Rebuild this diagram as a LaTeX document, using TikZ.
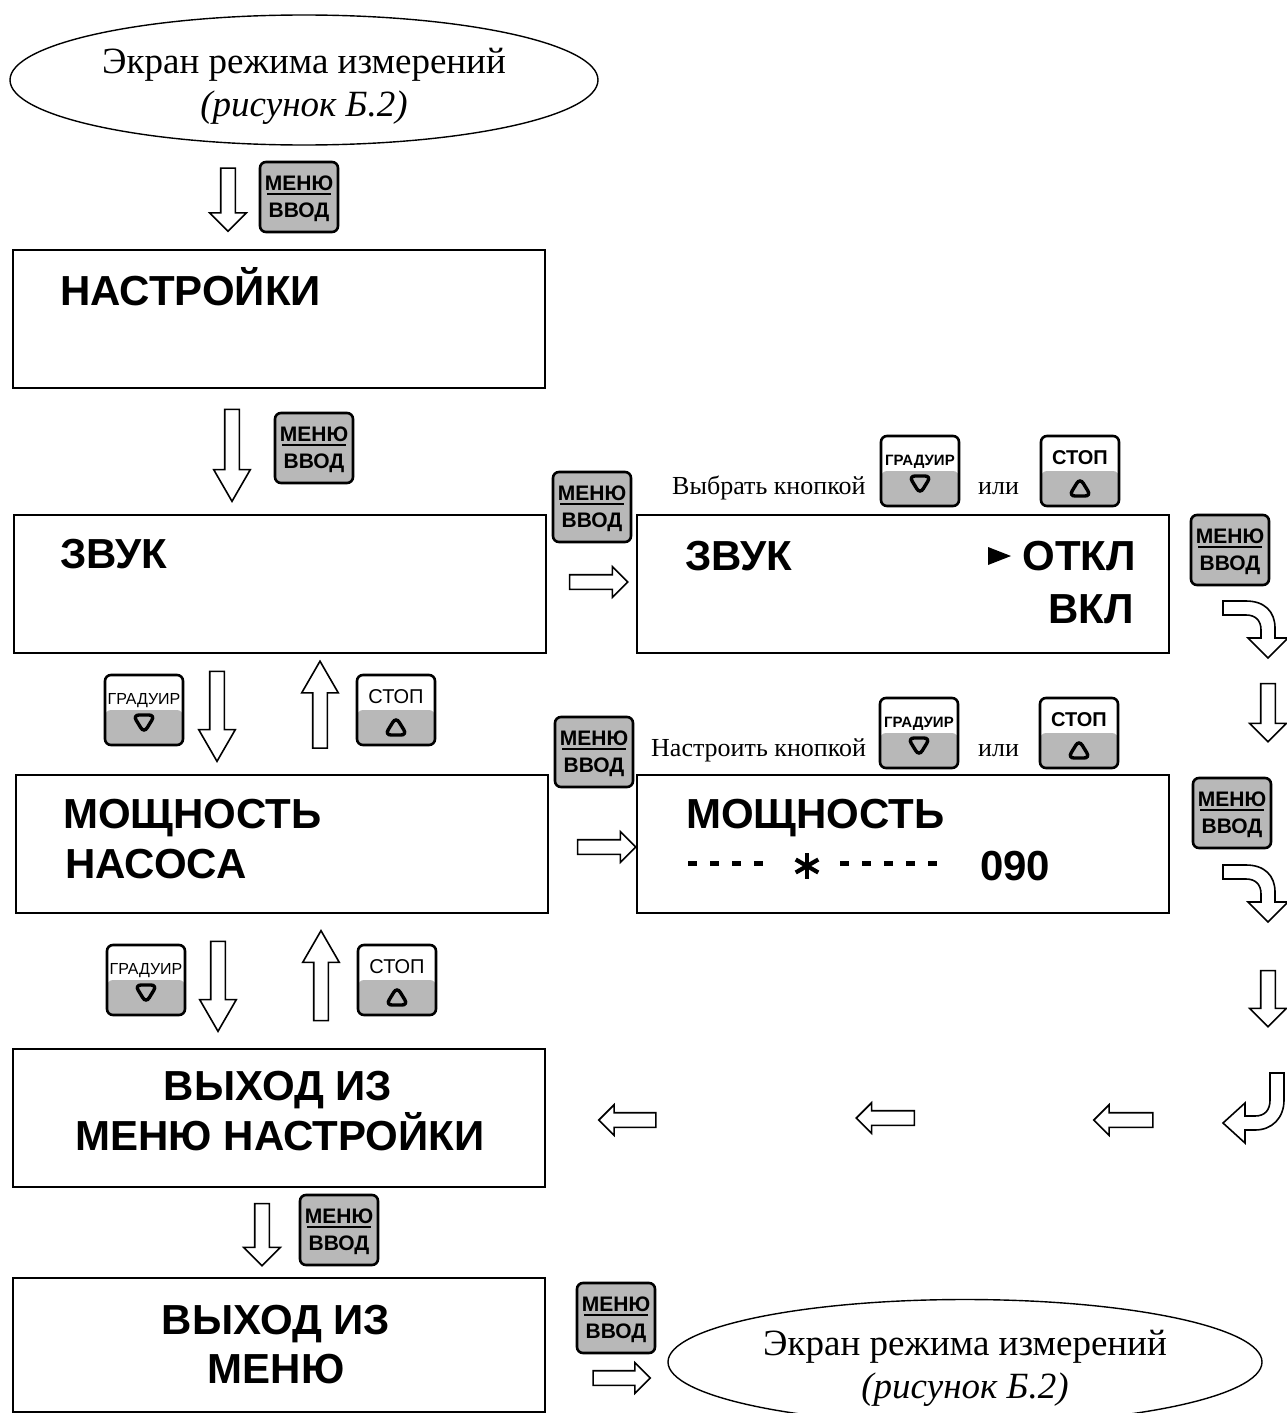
\documentclass[tikz,border=0pt]{standalone}
\usepackage{fontspec}
\setmainfont{Liberation Serif}
\setsansfont{Liberation Sans}
\usetikzlibrary{shapes.geometric,shapes.arrows}
\definecolor{keygray}{RGB}{184,184,184}

\tikzset{
  screen/.style={draw,line width=2.6pt,minimum width=532pt,minimum height=138pt,inner sep=0pt},
  lcd/.style={font=\sffamily\bfseries\fontsize{42}{48}\selectfont,inner sep=0pt},
  note/.style={font=\fontsize{26}{30}\selectfont,inner sep=0pt,anchor=base west},
  oval/.style={ellipse,draw,line width=1.4pt,inner sep=0pt,align=center,font=\fontsize{37}{43}\selectfont},
  keybox/.style={draw,line width=2.6pt,rounded corners=6pt,minimum width=78pt,minimum height=70pt,inner sep=0pt},
  keytext/.style={font=\sffamily\fontsize{#1}{#1}\selectfont,inner sep=0pt,anchor=base},
  keymenu/.style={keybox,fill=keygray,path picture={
      \node[keytext=21] at ([yshift=7pt]path picture bounding box.center) {\bfseries МЕНЮ};
      \draw[line width=2.6pt] ([xshift=-32pt,yshift=3pt]path picture bounding box.center) -- ++(64pt,0pt);
      \node[keytext=21] at ([yshift=-20pt]path picture bounding box.center) {\bfseries ВВОД};}},
  keydown/.style={keybox,path picture={
      \fill[keygray] (path picture bounding box.west) rectangle (path picture bounding box.south east);
      \draw[line width=3.4pt] ([yshift=-5pt]path picture bounding box.center) -- ++(-11pt,0pt) -- ++(11pt,-18pt) -- ++(11pt,18pt) -- cycle;
      \node[keytext=16] at ([yshift=6pt]path picture bounding box.center) {#1};}},
  keyup/.style={keybox,path picture={
      \fill[keygray] (path picture bounding box.west) rectangle (path picture bounding box.south east);
      \draw[line width=3.4pt] ([yshift=-25pt]path picture bounding box.center) -- ++(-11pt,0pt) -- ++(11pt,18pt) -- ++(11pt,-18pt) -- cycle;
      \node[keytext=20] at ([yshift=7pt]path picture bounding box.center) {#1};}},
  bigarrow/.style={single arrow,draw,line width=1.6pt,fill=white,inner xsep=0pt,inner ysep=6.5pt,
      single arrow head extend=11pt,single arrow tip angle=90,minimum height=#1},
  arrdown/.style={bigarrow=#1,rotate=-90},
  arrup/.style={bigarrow=#1,rotate=90},
  arrright/.style={bigarrow=#1,single arrow head extend=8pt},
  arrleft/.style={bigarrow=#1,single arrow head extend=8pt,rotate=180},
  longtip/.style={single arrow tip angle=60},
  bentarrow/.style={draw,line width=1.6pt,fill=white,line join=miter}
}

\begin{document}
\begin{tikzpicture}[x=1pt,y=-1pt]
\useasboundingbox (0,0) rectangle (1286,1413);

% entry
\node[oval,minimum width=588pt,minimum height=130pt] (scr1) at (304,80) {\rule{0pt}{37pt}Экран режима измерений\\\textit{(рисунок Б.2)}};
\node[arrdown=63pt] (a1) at (228,196) {};
\node[keymenu] (k1) at (299,197) {};

% left column
\node[screen] (s1) at (279,319) {};
\node[lcd,anchor=base west] (t1) at (60,305) {НАСТРОЙКИ};
\node[arrdown=92pt,longtip] (a2) at (232,449) {};
\node[keymenu] (k2) at (314,448) {};

\node[screen] (s2) at (280,584) {};
\node[lcd,anchor=base west] (t2) at (60,568) {ЗВУК};

\node[keydown=ГРАДУИР] (k5) at (144,710) {};
\node[arrdown=90pt,longtip] (a3) at (217,710) {};
\node[arrup=87pt,longtip] (a4) at (320,711) {};
\node[keyup=СТОП] (k6) at (396,710) {};

\node[screen] (s4) at (282,844) {};
\node[lcd,anchor=base west] (t6) at (63,828) {МОЩНОСТЬ};
\node[lcd,anchor=base west] (t7) at (65,878) {НАСОСА};

\node[keydown=ГРАДУИР] (k10) at (146,980) {};
\node[arrdown=90pt,longtip] (a7) at (218,980) {};
\node[arrup=90pt,longtip] (a8) at (321,982) {};
\node[keyup=СТОП] (k11) at (397,980) {};

\node[screen] (s6) at (279,1118) {};
\node[lcd,anchor=base] (t10) at (278,1100) {ВЫХОД ИЗ};
\node[lcd,anchor=base] (t11) at (280,1150) {МЕНЮ НАСТРОЙКИ};
\node[arrdown=62pt] (a9) at (262,1231) {};
\node[keymenu] (k12) at (339,1230) {};

\node[screen,minimum height=134pt] (s7) at (279,1345) {};
\node[lcd,anchor=base] (t12) at (276,1334) {ВЫХОД ИЗ};
\node[lcd,anchor=base] (t13) at (276,1383) {МЕНЮ};

% sound setting
\node[keymenu] (k3) at (592,507) {};
\node[arrright=58pt] (a5) at (595,582) {};
\node[note] (n1) at (672,494) {Выбрать кнопкой};
\node[keydown={\bfseries\fontsize{15}{15}\selectfont ГРАДУИР}] (k4) at (920,471) {};
\node[note] (n2) at (978,494) {или};
\node[keyup={\bfseries СТОП}] (k7) at (1080,471) {};
\node[screen] (s3) at (903,584) {};
\node[lcd,anchor=base west] (t3) at (685,570) {ЗВУК};
\fill (988,547) -- (1011,556) -- (988,565) -- cycle;
\node[lcd,anchor=base east] (t4) at (1136,570) {ОТКЛ};
\node[lcd,anchor=base east] (t5) at (1134,623) {ВКЛ};
\node[keymenu] (k8) at (1230,550) {};
\draw[bentarrow] (1223,601) -- (1246,601) .. controls (1265,601) and (1275,612) .. (1275,628) -- (1275,638) -- (1288,638)
  -- (1268,658) -- (1248,638) -- (1261,638) -- (1261,630) .. controls (1261,620) and (1255,615) .. (1246,615) -- (1223,615) -- cycle;
\node[arrdown=58pt] (a6) at (1268,709) {};

% pump power setting
\node[keymenu] (k9) at (594,752) {};
\node[arrright=58pt] (a10) at (603,847) {};
\node[note] (n3) at (651,756) {Настроить кнопкой};
\node[keydown={\bfseries\fontsize{15}{15}\selectfont ГРАДУИР}] (k13) at (919,733) {};
\node[note] (n4) at (978,756) {или};
\node[keyup={\bfseries СТОП}] (k14) at (1079,733) {};
\node[screen] (s5) at (903,844) {};
\node[lcd,anchor=base west] (t8) at (686,828) {МОЩНОСТЬ};
\foreach \x in {688,710,732,754,840,862,884,906,928}
  \fill (\x,861) rectangle (\x+9,866);
\foreach \a in {90,30,-30}
  \draw[line width=4.2pt] (807,866) ++(\a:13pt) -- ++(\a+180:26pt);
\node[lcd,anchor=base west] (t9) at (980,880) {090};
\node[keymenu] (k15) at (1232,813) {};
\draw[bentarrow] (1223,865) -- (1246,865) .. controls (1265,865) and (1275,876) .. (1275,892) -- (1275,902) -- (1288,902)
  -- (1268,922) -- (1248,902) -- (1261,902) -- (1261,894) .. controls (1261,884) and (1255,879) .. (1246,879) -- (1223,879) -- cycle;
\node[arrdown=56pt] (a11) at (1268,995) {};
\draw[bentarrow] (1223,1123) -- (1245,1103) -- (1245,1116) -- (1255,1116) .. controls (1265,1116) and (1270,1110) .. (1270,1100)
  -- (1270,1073) -- (1284,1073) -- (1284,1100) .. controls (1284,1118) and (1272,1130) .. (1255,1130) -- (1245,1130) -- (1245,1143) -- cycle;
\node[arrleft=59pt] (a12) at (1127,1120) {};
\node[arrleft=58pt] (a13) at (889,1118) {};
\node[arrleft=57pt] (a14) at (631,1120) {};

% exit
\node[keymenu] (k16) at (616,1318) {};
\node[arrright=57pt] (a15) at (618,1378) {};
\node[oval,minimum width=594pt,minimum height=125pt] (scr2) at (965,1362) {\rule{0pt}{37pt}Экран режима измерений\\\textit{(рисунок Б.2)}};
\end{tikzpicture}
\end{document}
